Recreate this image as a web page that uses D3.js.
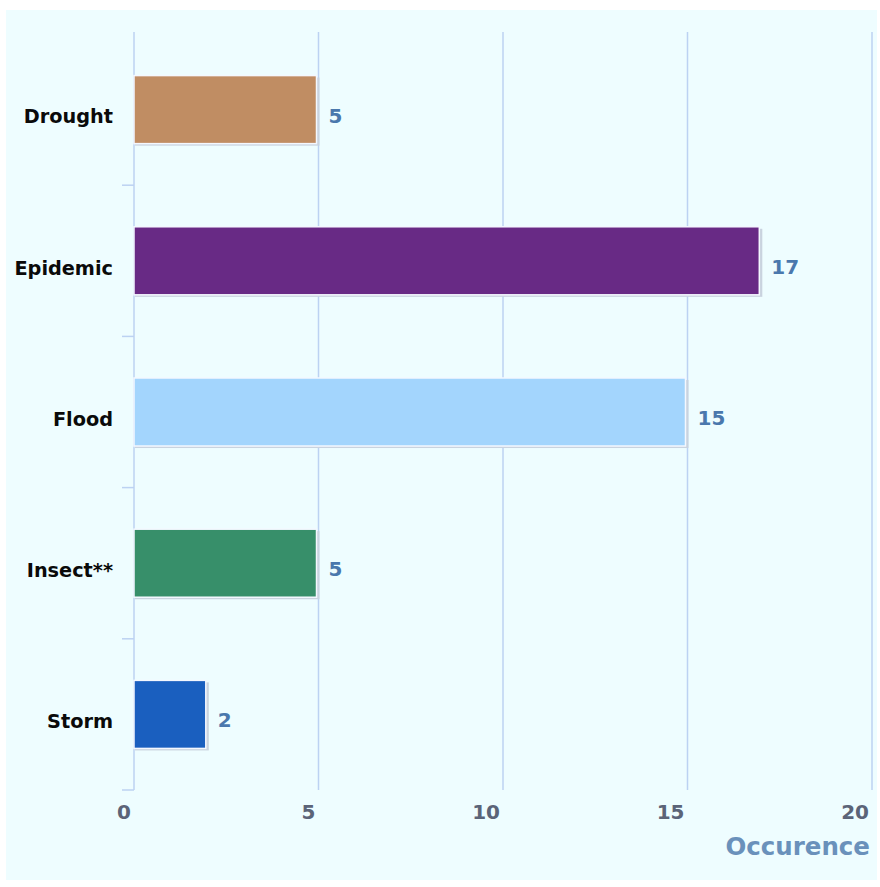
<!DOCTYPE html>
<html><head><meta charset="utf-8">
<script src="https://cdn.jsdelivr.net/npm/d3@7"></script>
<style>body{margin:0;background:#fff}svg{display:block}</style>
</head><body><div id="chart"></div>
<script>
const categories = ["Drought","Epidemic","Flood","Insect**","Storm"];
const values = [5,17,15,5,2];
const colors = ["#c08d63","#682a85","#a3d5fd","#378f6a","#1a5fbf"];
const xTicks = [0,5,10,15,20];
const xTitle = "Occurence";

const W=880,H=887;
const svg=d3.select("#chart").append("svg").attr("width",W).attr("height",H);
svg.append("rect").attr("x",6).attr("y",10).attr("width",871).attr("height",870).attr("fill","#eefdff");

const x=d3.scaleLinear().domain([0,20]).range([134,872]);
const y=d3.scaleBand().domain(categories).range([34,790]).paddingInner(0.55).paddingOuter(0.275);
const yb=d3.scaleBand().domain(categories).range([34,790]);

const font="DejaVu Sans, sans-serif";
// gridlines
svg.append("g").selectAll("line").data(xTicks).join("line")
  .attr("x1",d=>x(d)).attr("x2",d=>x(d)).attr("y1",32).attr("y2",790)
  .attr("stroke","#bcd2f2").attr("stroke-width",1.5);
// category ticks
svg.append("g").selectAll("line").data(categories).join("line")
  .attr("x1",122).attr("x2",134).attr("y1",d=>yb(d)+yb.bandwidth()).attr("y2",d=>yb(d)+yb.bandwidth())
  .attr("stroke","#bcd2f2").attr("stroke-width",1.5);

// bars
const bars=svg.append("g");
bars.selectAll("rect.sh").data(categories).join("rect").attr("class","sh")
  .attr("x",x(0)+1).attr("y",d=>y(d)+2).attr("width",(d,i)=>x(values[i])-x(0)).attr("height",y.bandwidth())
  .attr("fill","#c9d3df");
bars.selectAll("rect.b").data(categories).join("rect").attr("class","b")
  .attr("x",x(0)).attr("y",d=>y(d)).attr("width",(d,i)=>x(values[i])-x(0)-2).attr("height",y.bandwidth())
  .attr("fill",(d,i)=>colors[i]).attr("stroke","#f4f8ff").attr("stroke-width",1.5);

// value labels
svg.append("g").selectAll("text").data(categories).join("text")
  .attr("x",(d,i)=>x(values[i])+10).attr("y",d=>y(d)+y.bandwidth()/2+6)
  .attr("dy","0.35em").attr("font-family",font).attr("font-weight","bold").attr("font-size",20)
  .attr("fill","#4a78ad").text((d,i)=>values[i]);

// category labels
svg.append("g").selectAll("text").data(categories).join("text")
  .attr("x",113).attr("y",d=>y(d)+y.bandwidth()/2+7)
  .attr("dy","0.35em").attr("text-anchor","end").attr("font-family",font).attr("font-weight","bold").attr("font-size",19.3)
  .attr("fill","#0a0a0a").text(d=>d);

// x tick labels
svg.append("g").selectAll("text").data(xTicks).join("text")
  .attr("x",d=>x(d)-3).attr("y",812).attr("dy","0.35em").attr("text-anchor","end")
  .attr("font-family",font).attr("font-weight","bold").attr("font-size",20)
  .attr("fill","#5b6478").text(d=>d);

svg.append("text").attr("x",870).attr("y",846).attr("dy","0.35em").attr("text-anchor","end")
  .attr("font-family",font).attr("font-weight","bold").attr("font-size",24.5)
  .attr("fill","#6a91bb").text(xTitle);
</script></body></html>
